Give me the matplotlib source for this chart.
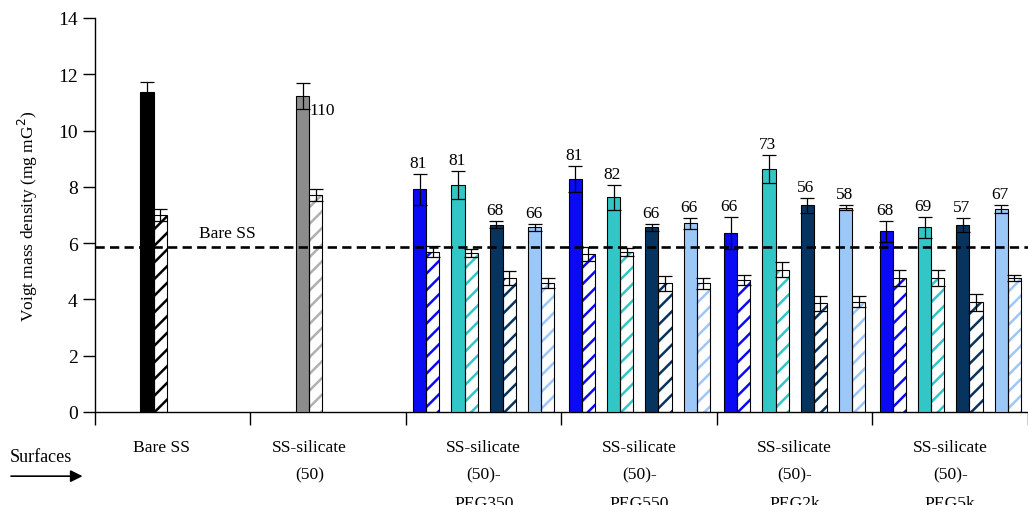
import matplotlib
matplotlib.use('Agg')
import matplotlib.pyplot as plt
import numpy as np

plt.rcParams['font.family'] = ['Liberation Serif', 'DejaVu Serif']
plt.rcParams['hatch.linewidth'] = 1.8

# categories on the x axis
categories = ['Bare SS', 'SS-silicate\n(50)', 'SS-silicate\n(50)-\nPEG350',
              'SS-silicate\n(50)-\nPEG550', 'SS-silicate\n(50)-\nPEG2k',
              'SS-silicate\n(50)-\nPEG5k']

# first two groups: one solid + one hatched bar each
single_solid = [11.36, 11.22]
single_solid_err = [0.35, 0.47]
single_hatch = [7.00, 7.71]
single_hatch_err = [0.21, 0.21]
single_colors = ['#000000', '#8c8c8c']
single_labels = ['', '110']

# PEG groups (PEG350, PEG550, PEG2k, PEG5k), four series each
series_colors = ['#0a0af5', '#33c6c6', '#06345e', '#9cc8f8']
solid = [
    [7.92, 8.28, 6.35, 6.42],   # blue
    [8.07, 7.63, 8.64, 6.56],   # teal
    [6.65, 6.56, 7.34, 6.65],   # navy
    [6.56, 6.71, 7.26, 7.21],   # light blue
]
solid_err = [
    [0.55, 0.47, 0.57, 0.38],
    [0.50, 0.44, 0.50, 0.36],
    [0.13, 0.12, 0.26, 0.26],
    [0.13, 0.20, 0.10, 0.14],
]
hatched = [
    [5.70, 5.61, 4.69, 4.76],
    [5.65, 5.70, 5.06, 4.76],
    [4.75, 4.57, 3.86, 3.90],
    [4.58, 4.57, 3.92, 4.76],
]
hatched_err = [
    [0.20, 0.25, 0.18, 0.30],
    [0.15, 0.14, 0.28, 0.30],
    [0.25, 0.27, 0.27, 0.30],
    [0.18, 0.20, 0.19, 0.11],
]
value_labels = [
    ['81', '81', '66', '68'],
    ['81', '82', '73', '69'],
    ['68', '66', '56', '57'],
    ['66', '66', '58', '67'],
]
bare_ss_level = 5.87

fig = plt.figure(figsize=(10.28, 5.06), dpi=100)
ax = fig.add_axes([0.0924, 0.1838, 0.9076, 0.7787])

w = 0.084
slot = 0.247
err_kw = dict(fmt='none', ecolor='black', elinewidth=0.9, capsize=5,
              capthick=0.9, zorder=4)


def hatched_bar(x, h, color):
    ax.bar(x, h, w, color='white', edgecolor=color, hatch='//',
           linewidth=0, zorder=2)
    ax.bar(x, h, w, fill=False, edgecolor='black', linewidth=0.8, zorder=3)


for i in range(2):
    pc = i + (1 - 1.5) * slot
    xs, xh = pc - w / 2, pc + w / 2
    ax.bar(xs, single_solid[i], w, color=single_colors[i], edgecolor='black',
           linewidth=0.8, zorder=3)
    hatched_bar(xh, single_hatch[i], single_colors[i] if i == 0 else '#b0b0b0')
    ax.errorbar([xs], [single_solid[i]], yerr=[single_solid_err[i]], **err_kw)
    ax.errorbar([xh], [single_hatch[i]], yerr=[single_hatch_err[i]], **err_kw)
    if single_labels[i]:
        ax.annotate(single_labels[i], (xs, single_solid[i]),
                    xytext=(14, -10), textcoords='offset points',
                    ha='center', va='center', fontsize=12.5, zorder=5)

for s in range(4):
    for g in range(4):
        pc = (g + 2) + (s - 1.5) * slot
        xs, xh = pc - w / 2, pc + w / 2
        ax.bar(xs, solid[s][g], w, color=series_colors[s], edgecolor='black',
               linewidth=0.8, zorder=3)
        hatched_bar(xh, hatched[s][g], series_colors[s])
        ax.errorbar([xs], [solid[s][g]], yerr=[solid_err[s][g]], **err_kw)
        ax.errorbar([xh], [hatched[s][g]], yerr=[hatched_err[s][g]], **err_kw)
        ax.annotate(value_labels[s][g], (xs, solid[s][g] + solid_err[s][g]),
                    xytext=(-1, 2), textcoords='offset points',
                    ha='center', va='bottom', fontsize=12.5, zorder=5)

ax.axhline(bare_ss_level, color='black', lw=1.9, dashes=(3.5, 2), zorder=5)
ax.text(0.35, bare_ss_level + 0.2, 'Bare SS', ha='center', va='bottom',
        fontsize=12.5)

ax.set_xlim(-0.5, 5.5)
ax.set_ylim(0, 14)
ax.set_yticks(np.arange(0, 15, 2))
ax.tick_params(axis='y', direction='out', length=9, width=1, labelsize=14)
ax.set_xticks(np.arange(-0.5, 5.6, 1))
ax.set_xticklabels([])
ax.tick_params(axis='x', direction='out', length=9, width=1)
for sp in ['top', 'right']:
    ax.spines[sp].set_visible(False)
ax.spines['left'].set_linewidth(1)
ax.spines['bottom'].set_linewidth(1)

label_shift = [-0.07, -0.12, 0, 0, 0, 0]
for i, lab in enumerate(categories):
    ax.text(i + label_shift[i], -0.068, lab, transform=ax.get_xaxis_transform(),
            ha='center', va='top', fontsize=12.6, linespacing=2.0)

ax.set_ylabel('Voigt mass density (mg mG$^{2}$)', fontsize=12.5)
ax.yaxis.set_label_coords(-0.059, 0.5)

fig.text(0.0097, 0.095, 'Surfaces', ha='left', va='center', fontsize=13)
fig.patches.append(matplotlib.patches.FancyArrowPatch(
    (0.008, 0.057), (0.083, 0.057), transform=fig.transFigure,
    arrowstyle='-|>', mutation_scale=18, color='black', lw=1.2))

fig.savefig('out.png', dpi=100)
